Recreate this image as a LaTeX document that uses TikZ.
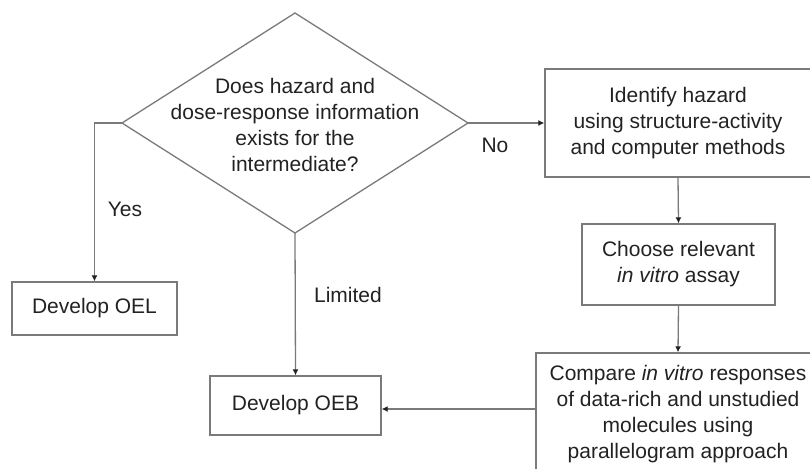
\documentclass[tikz,border=0pt]{standalone}
\usepackage{fontspec}
\setmainfont{Liberation Sans}
\usetikzlibrary{arrows.meta}
\definecolor{linegray}{HTML}{7A7A7A}
\definecolor{textgray}{HTML}{222222}
\begin{document}
\begin{tikzpicture}[x=1pt,y=-1pt,
  conn/.style={draw=linegray,line width=1.3pt,-{Latex[length=6pt,width=6pt,fill=textgray,color=textgray]}},
  boxnode/.style={draw=linegray,line width=1.3pt,align=center,text=textgray,
    font=\fontsize{21}{26}\selectfont,inner sep=0pt},
  lbl/.style={text=textgray,font=\fontsize{21}{26}\selectfont,inner sep=0pt}]
\useasboundingbox (0,0) rectangle (810,468);
% diamond
\coordinate (dtop) at (295,13);
\coordinate (dleft) at (122,123);
\coordinate (dright) at (468,123);
\coordinate (dbot) at (295,233);
\draw[linegray,line width=1.3pt] (dtop) -- (dright) -- (dbot) -- (dleft) -- cycle;
\node[lbl,align=center] (q) at (295,125) {Does hazard and\\dose-response information\\exists for the\\intermediate?};
% boxes
\node[boxnode,minimum width=165pt,minimum height=53pt] (oel) at (94.5,308.5) {Develop OEL};
\node[boxnode,minimum width=171pt,minimum height=59pt] (oeb) at (295.5,405.5) {Develop OEB};
\node[boxnode,minimum width=266pt,minimum height=108pt] (ident) at (678,123) {Identify hazard\\using structure-activity\\and computer methods};
\node[boxnode,minimum width=193pt,minimum height=81pt] (choose) at (678.5,264.5) {Choose relevant\\\textit{in vitro} assay};
\node[boxnode,minimum width=284pt,minimum height=122pt] (compare) at (678,414) {Compare \textit{in vitro} responses\\of data-rich and unstudied\\molecules using\\parallelogram approach};
% connectors
\draw[conn] (dleft) -| (oel.north);
\draw[conn] (dbot) -- (oeb.north);
\draw[conn] (dright) -- (ident.west);
\draw[conn] (ident.south) -- (choose.north);
\draw[conn] (choose.south) -- (compare.north);
\draw[conn] (compare.west |- 0,409) -- (oeb.east |- 0,409);
% labels
\node[lbl] (yes) at (125,209) {Yes};
\node[lbl] (no) at (495,145) {No};
\node[lbl] (lim) at (348,295) {Limited};
\end{tikzpicture}
\end{document}
